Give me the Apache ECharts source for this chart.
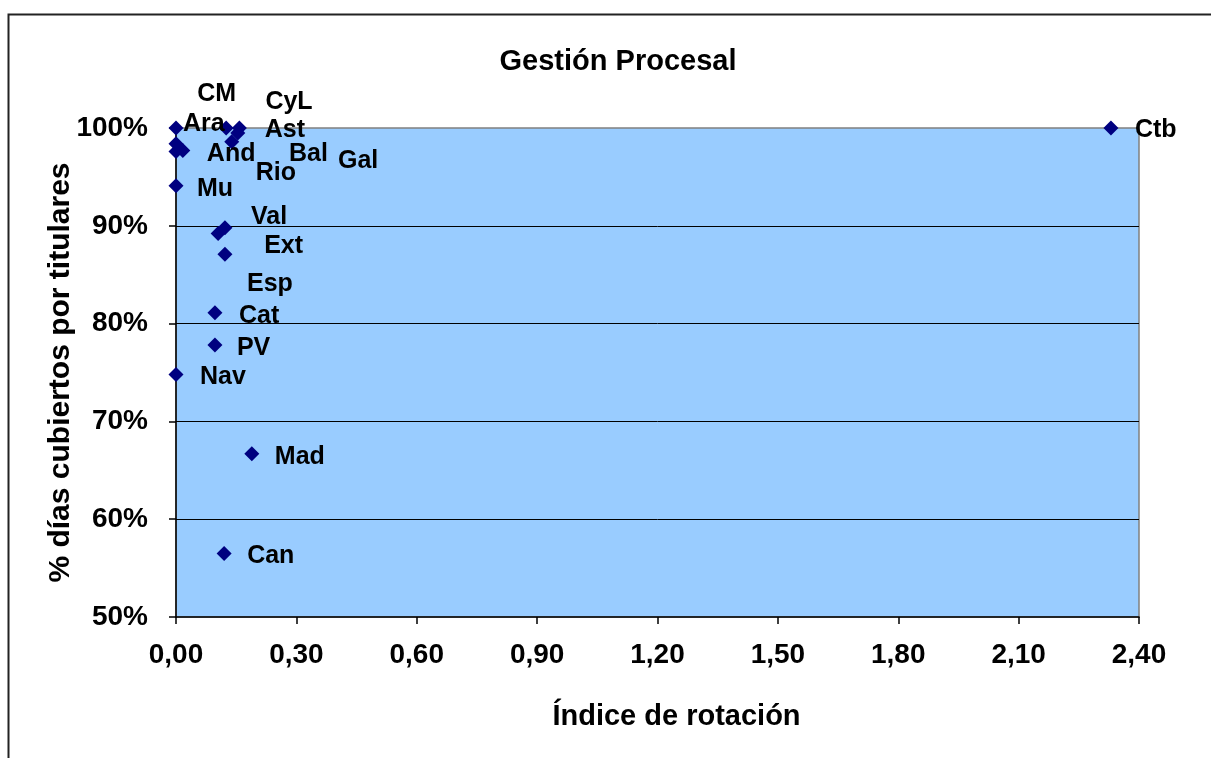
<!DOCTYPE html>
<html>
<head>
<meta charset="utf-8">
<script src="https://cdn.jsdelivr.net/npm/echarts@6/dist/echarts.min.js"></script>
<style>
html,body{margin:0;padding:0;background:#fff;}
#chart{width:1211px;height:758px;}
</style>
</head>
<body>
<div id="chart"></div>
<script>
// Data
const regions = ['Ara','CM','CyL','Ast','Rio','Gal','Bal','And','Mu','Val','Ext','Esp','Cat','PV','Nav','Mad','Can','Ctb'];
const rotationIndex = [0.00,0.125,0.158,0.154,0.139,0.00,0.00,0.017,0.00,0.122,0.105,0.122,0.097,0.097,0.00,0.189,0.12,2.33];
const coveredPct = [100,100,100,99.5,98.6,98.4,97.6,97.7,94.1,89.8,89.2,87.1,81.1,77.8,74.8,66.7,56.5,100];
const xTicks = [0,0.3,0.6,0.9,1.2,1.5,1.8,2.1,2.4];
const yTicks = [50,60,70,80,90,100];

// Label placement (layout only): offset of label left edge / centre from the point
const labelOffsets = [[7,-4],[-29,-34],[26,-26],[27,-3],[24,31],[162,17],[113,3],[24,4],[21,3],[26,-11],[46,12],[22,30],[24,3],[22,3],[24,3],[23,3],[23,3],[24,2]];

const FONT = 'Liberation Sans, Arial, sans-serif';
const SYM = 15;

const seriesData = regions.map((n, i) => ({ name: n, value: [rotationIndex[i], coveredPct[i]] }));

const chart = echarts.init(document.getElementById('chart'), null, { renderer: 'canvas' });
chart.setOption({
  backgroundColor: '#ffffff',
  animation: false,
  title: {
    text: 'Gestión Procesal',
    left: 613, top: 42, textAlign: 'center',
    textStyle: { fontFamily: FONT, fontWeight: 'bold', fontSize: 29, color: '#000' }
  },
  graphic: [{
    type: 'rect', left: 6, top: 12, silent: true,
    shape: { x: 0, y: 0, width: 1300, height: 800 },
    style: { fill: 'none', stroke: '#222', lineWidth: 2 }
  }],
  grid: {
    left: 176, right: 72, top: 128, bottom: 141,
    show: true, backgroundColor: '#99CCFF', borderColor: '#808080', borderWidth: 1.5
  },
  xAxis: {
    type: 'value', min: xTicks[0], max: xTicks[xTicks.length - 1], interval: xTicks[1] - xTicks[0],
    name: 'Índice de rotación', nameLocation: 'middle', nameGap: 85,
    nameTextStyle: { fontFamily: FONT, fontWeight: 'bold', fontSize: 29, color: '#000', padding: [0, 0, 0, 38] },
    axisLine: { show: true, onZero: false, lineStyle: { color: '#000', width: 1.5 } },
    axisTick: { show: true, inside: false, length: 7, lineStyle: { color: '#000', width: 1.5 } },
    axisLabel: {
      margin: 24, fontFamily: FONT, fontWeight: 'bold', fontSize: 28, color: '#000',
      formatter: v => v.toFixed(2).replace('.', ',')
    },
    splitLine: { show: false }
  },
  yAxis: {
    type: 'value', min: yTicks[0], max: yTicks[yTicks.length - 1], interval: yTicks[1] - yTicks[0],
    name: '% días cubiertos por titulares', nameLocation: 'middle', nameGap: 100,
    nameMoveOverlap: false,
    nameTextStyle: { fontFamily: FONT, fontWeight: 'bold', fontSize: 30, color: '#000' },
    axisLine: { show: true, onZero: false, lineStyle: { color: '#000', width: 1.5 } },
    axisTick: { show: true, inside: false, length: 7, lineStyle: { color: '#000', width: 1.5 } },
    axisLabel: {
      margin: 28, fontFamily: FONT, fontWeight: 'bold', fontSize: 28, color: '#000',
      formatter: v => Math.round(v) + '%'
    },
    splitLine: { show: true, showMinLine: false, showMaxLine: false, lineStyle: { color: '#000', width: 1 } }
  },
  series: [{
    type: 'scatter',
    symbol: 'diamond',
    symbolSize: SYM,
    itemStyle: { color: '#000080', opacity: 1 },
    label: {
      show: true, position: 'right', distance: 0, formatter: '{b}',
      fontFamily: FONT, fontWeight: 'bold', fontSize: 25, color: '#000', opacity: 1
    },
    labelLayout: function (p) {
      const o = labelOffsets[p.dataIndex];
      return { dx: o[0] - SYM / 2, dy: o[1], hideOverlap: false };
    },
    emphasis: { disabled: true },
    data: seriesData
  }]
});
</script>
</body>
</html>
